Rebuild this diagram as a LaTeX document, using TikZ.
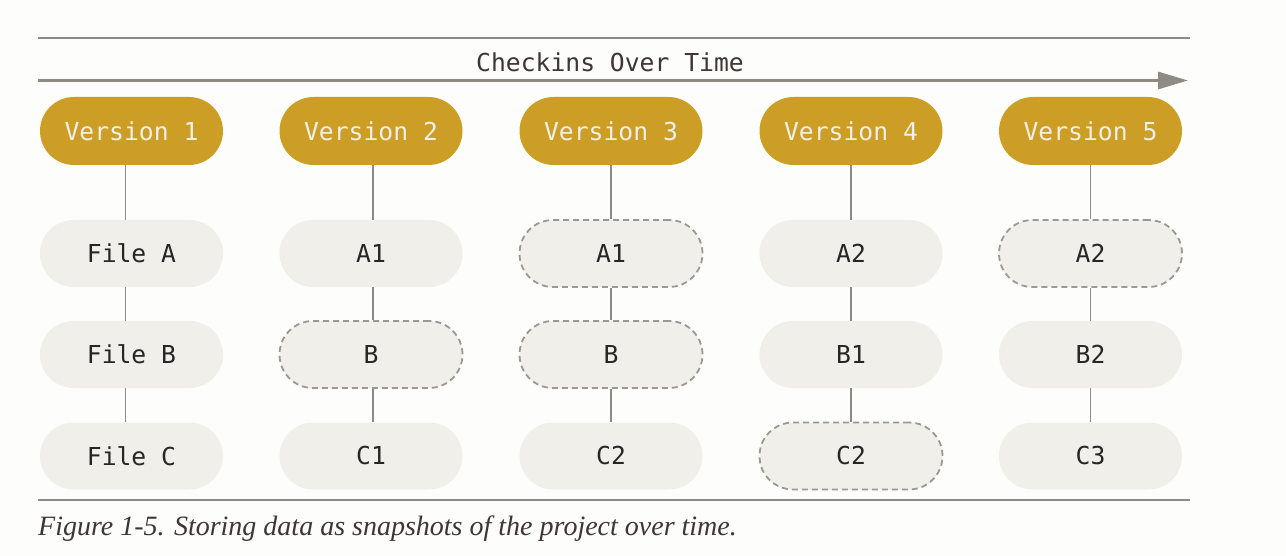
\documentclass[tikz,border=0pt]{standalone}
\usepackage{fontspec}
\setmainfont{Liberation Serif}
\setmonofont{DejaVu Sans Mono}
\usetikzlibrary{arrows.meta}
\definecolor{gold}{HTML}{CC9E26}
\definecolor{snap}{HTML}{F0EFEA}
\definecolor{rule}{HTML}{8E8A84}
\definecolor{dash}{HTML}{9C9893}
\definecolor{ink}{HTML}{3E3632}
\definecolor{paper}{HTML}{FDFDFB}

\begin{document}
\begin{tikzpicture}[x=1pt,y=-1pt,
    version/.style={fill=gold,text=snap,rounded corners=34pt,minimum width=183pt,minimum height=68pt,inner sep=0pt,font=\ttfamily\fontsize{24.7}{28}\selectfont},
    file/.style={fill=snap,text=black!85,rounded corners=33.5pt,minimum width=183pt,minimum height=67pt,inner sep=0pt,font=\ttfamily\fontsize{24.7}{28}\selectfont},
    same/.style={file,draw=dash,line width=1.8pt,dash pattern=on 6pt off 4pt},
    link/.style={draw=rule,line width=1.8pt}]
      \fill[paper] (0,0) rectangle (1286,556);
      \useasboundingbox (0,0) rectangle (1286,556);
      \draw[rule,line width=2pt] (38,38.5) -- (1190,38.5);
      \node[text=ink,font=\ttfamily\fontsize{24.7}{28}\selectfont] (title) at (610,62) {Checkins Over Time};
      \draw[rule,line width=3pt,-{Triangle[length=30pt,width=17pt]}] (38,80.5) -- (1188,80.5);
      \node[version] (v1) at (131.5,131) {Version 1};
      \node[version] (v2) at (371,131) {Version 2};
      \node[version] (v3) at (611,131) {Version 3};
      \node[version] (v4) at (851,131) {Version 4};
      \node[version] (v5) at (1090.5,131) {Version 5};
      \node[file] (a1) at (131.5,253.5) {File A};
      \node[file] (b1) at (131.5,354.5) {File B};
      \node[file] (c1) at (131.5,456) {File C};
      \node[file] (a2) at (371,253.5) {A1};
      \node[same] (b2) at (371,354.5) {B};
      \node[file] (c2) at (371,456) {C1};
      \node[same] (a3) at (611,253.5) {A1};
      \node[same] (b3) at (611,354.5) {B};
      \node[file] (c3) at (611,456) {C2};
      \node[file] (a4) at (851,253.5) {A2};
      \node[file] (b4) at (851,354.5) {B1};
      \node[same] (c4) at (851,456) {C2};
      \node[same] (a5) at (1090.5,253.5) {A2};
      \node[file] (b5) at (1090.5,354.5) {B2};
      \node[file] (c5) at (1090.5,456) {C3};
      \draw[link] ([xshift=-6pt]v1.south) -- ([xshift=-6pt]a1.north) ([xshift=-6pt]a1.south) -- ([xshift=-6pt]b1.north) ([xshift=-6pt]b1.south) -- ([xshift=-6pt]c1.north);
      \draw[link] ([xshift=2pt]v2.south) -- ([xshift=2pt]a2.north) ([xshift=2pt]a2.south) -- ([xshift=2pt]b2.north) ([xshift=2pt]b2.south) -- ([xshift=2pt]c2.north);
      \draw[link] (v3) -- (a3) (a3) -- (b3) (b3) -- (c3);
      \draw[link] (v4) -- (a4) (a4) -- (b4) (b4) -- (c4);
      \draw[link] (v5) -- (a5) (a5) -- (b5) (b5) -- (c5);
      \draw[rule,line width=2pt] (38,500) -- (1190,500);
      \node[anchor=base west,inner sep=0pt,text=ink,font=\itshape\fontsize{28}{32}\selectfont] (caption) at (38,535) {Figure 1-5. Storing data as snapshots of the project over time.};
    \end{tikzpicture}
\end{document}
